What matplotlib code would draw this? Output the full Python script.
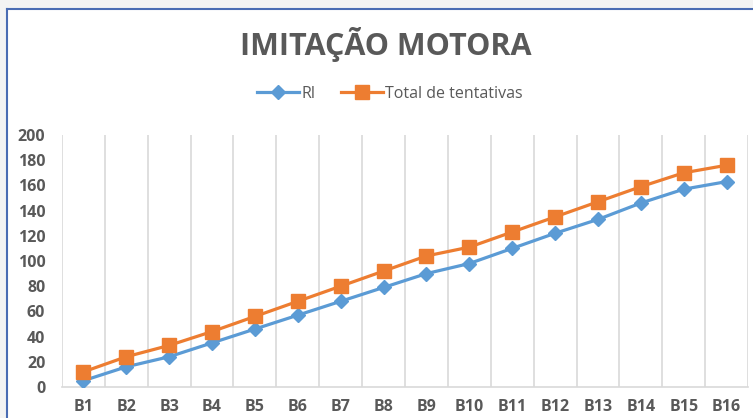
import matplotlib.pyplot as plt
from matplotlib.patches import Rectangle
from matplotlib.lines import Line2D

# Dados
blocos = ['B1', 'B2', 'B3', 'B4', 'B5', 'B6', 'B7', 'B8',
          'B9', 'B10', 'B11', 'B12', 'B13', 'B14', 'B15', 'B16']
ri = [5, 16, 24, 35, 46, 57, 68, 79, 90, 98, 110, 122, 133, 146, 157, 163]
total = [12, 24, 33, 44, 56, 68, 80, 92, 104, 111, 123, 135, 147, 159, 170, 176]

plt.rcParams['font.family'] = ['Open Sans', 'DejaVu Sans']
cinza = '#595959'

fig = plt.figure(figsize=(7.53, 4.18), dpi=100)
ax = fig.add_axes([0.0823, 0.0742, 0.9111, 0.6028])

x = list(range(len(blocos)))
ax.plot(x, ri, '-D', color='#5B9BD5', linewidth=2.3, markersize=7.5, label='RI', zorder=3)
ax.plot(x, total, '-s', color='#ED7D31', linewidth=2.3, markersize=9.5,
        label='Total de tentativas', zorder=3)

# Eixos
ax.set_xlim(-0.5, len(blocos) - 0.5)
ax.set_ylim(0, 200)
ax.set_yticks(range(0, 201, 20))
ax.set_xticks(x)
ax.set_xticklabels(blocos)
ax.tick_params(length=0, colors=cinza, labelsize=11.5)
ax.tick_params(axis='y', pad=12)
ax.tick_params(axis='x', pad=9)
for lbl in ax.get_xticklabels() + ax.get_yticklabels():
    lbl.set_fontweight('bold')

# Linhas de grade verticais entre categorias
for b in range(len(blocos) + 1):
    ax.axvline(b - 0.5, color='#d9d9d9', linewidth=1.2, zorder=1)

for s in ['left', 'right', 'top']:
    ax.spines[s].set_visible(False)
ax.spines['bottom'].set_color('#d9d9d9')
ax.spines['bottom'].set_linewidth(1.2)

# Título e legenda
fig.text(0.512, 0.893, 'IMITAÇÃO MOTORA', ha='center', va='center',
         fontsize=22, fontweight='bold', color=cinza)
fig.legend(loc='center', bbox_to_anchor=(0.518, 0.775), ncol=2, frameon=False,
           fontsize=11.5, labelcolor=cinza, handlelength=2.6, handletextpad=0.15,
           columnspacing=1.6)

# Moldura da janela
fig.patches.append(Rectangle((0, 0.98), 1, 0.02, transform=fig.transFigure,
                             color='#f3f3f3', zorder=0))
fig.patches.append(Rectangle((0, 0), 0.007, 1, transform=fig.transFigure,
                             color='#f3f3f3', zorder=0))
fig.lines.append(Line2D([0.009, 1], [0.979, 0.979], transform=fig.transFigure,
                        color='#4a6cb3', linewidth=1.5))
fig.lines.append(Line2D([0.009, 0.009], [0, 0.979], transform=fig.transFigure,
                        color='#4a6cb3', linewidth=1.5))

fig.savefig('out.png', dpi=100)
